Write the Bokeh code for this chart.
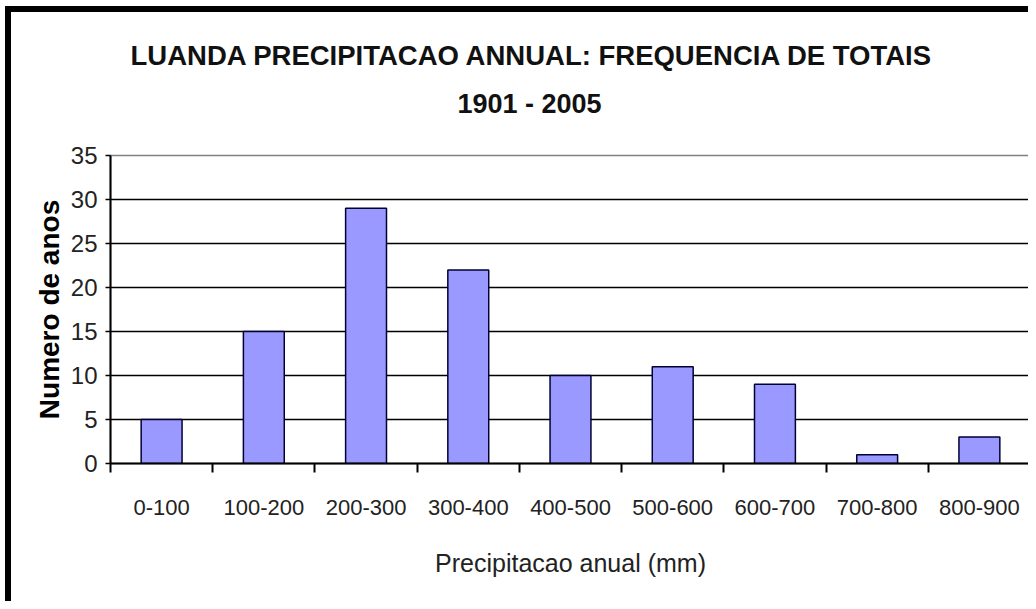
from bokeh.plotting import figure
from bokeh.models import FixedTicker, Title, Range1d
from bokeh.embed import file_html
from bokeh.resources import INLINE

categories = ["0-100", "100-200", "200-300", "300-400", "400-500",
              "500-600", "600-700", "700-800", "800-900"]
counts = [5, 15, 29, 22, 10, 11, 9, 1, 3]
y_ticks = [0, 5, 10, 15, 20, 25, 30, 35]
title_line1 = "LUANDA PRECIPITACAO ANNUAL: FREQUENCIA DE TOTAIS"
title_line2 = "1901 - 2005"
x_title = "Precipitacao anual (mm)"
y_title = "Numero de anos"

FONT = "Liberation Sans"
n = len(categories)
centers = [i + 0.5 for i in range(n)]
bounds = list(range(n + 1))

p = figure(width=1023, height=595,
           x_range=Range1d(0, n), y_range=Range1d(0, y_ticks[-1]),
           output_backend="svg", toolbar_location=None,
           min_border_left=99, min_border_right=4,
           min_border_top=143, min_border_bottom=144)
p.styles = {"border-top": "6px solid black", "border-left": "6px solid black",
            "margin-top": "6px", "margin-left": "5px"}
p.title.visible = False
p.background_fill_color = "white"
p.border_fill_color = "white"
p.outline_line_color = "#808080"
p.outline_line_width = 1.5

p.vbar(x=centers, top=counts, width=0.4, bottom=0,
       fill_color="#9999FF", line_color="#000033", line_width=1.5)

# grid
p.xgrid.visible = False
p.ygrid.ticker = FixedTicker(ticks=y_ticks[1:-1])
p.ygrid.grid_line_color = "black"
p.ygrid.grid_line_width = 1.6

# y axis
ya = p.yaxis[0]
ya.ticker = FixedTicker(ticks=y_ticks)
ya.major_tick_out = 5
ya.major_tick_in = 0
ya.minor_tick_line_color = None
ya.axis_line_color = "black"
ya.axis_line_width = 2
ya.major_tick_line_width = 1.5
ya.major_label_text_font = FONT
ya.major_label_text_font_size = "24px"
ya.major_label_text_color = "#222222"
ya.major_label_standoff = 8
ya.axis_label = y_title
ya.axis_label_text_font = FONT
ya.axis_label_text_font_style = "bold"
ya.axis_label_text_font_size = "28px"
ya.axis_label_text_color = "black"
ya.axis_label_standoff = 3

# x axis: labels at centers, boundary ticks as minor ticks
xa = p.xaxis[0]
xa.ticker = FixedTicker(ticks=centers, minor_ticks=bounds)
xa.major_label_overrides = {c: lab for c, lab in zip(centers, categories)}
xa.major_tick_line_color = None
xa.major_tick_in = 0
xa.major_tick_out = 8
xa.minor_tick_line_color = "black"
xa.minor_tick_line_width = 2
xa.minor_tick_in = 0
xa.minor_tick_out = 9
xa.axis_line_color = "black"
xa.axis_line_width = 2
xa.major_label_text_font = FONT
xa.major_label_text_font_size = "22px"
xa.major_label_text_color = "#222222"
xa.major_label_standoff = 27
xa.axis_label = x_title
xa.axis_label_text_font = FONT
xa.axis_label_text_font_style = "normal"
xa.axis_label_text_font_size = "25px"
xa.axis_label_text_color = "#222222"
xa.axis_label_standoff = 31

# titles (first added sits nearest the plot area)
p.add_layout(Title(text=title_line2, align="left", offset=347,
                   text_font=FONT, text_font_style="bold",
                   text_font_size="27px", text_color="#111111",
                   standoff=74), "above")
p.add_layout(Title(text=title_line1, align="left", offset=20,
                   text_font=FONT, text_font_style="bold",
                   text_font_size="27.5px", text_color="#111111",
                   standoff=-42), "above")

open("out.html", "w").write(file_html(p, INLINE))
